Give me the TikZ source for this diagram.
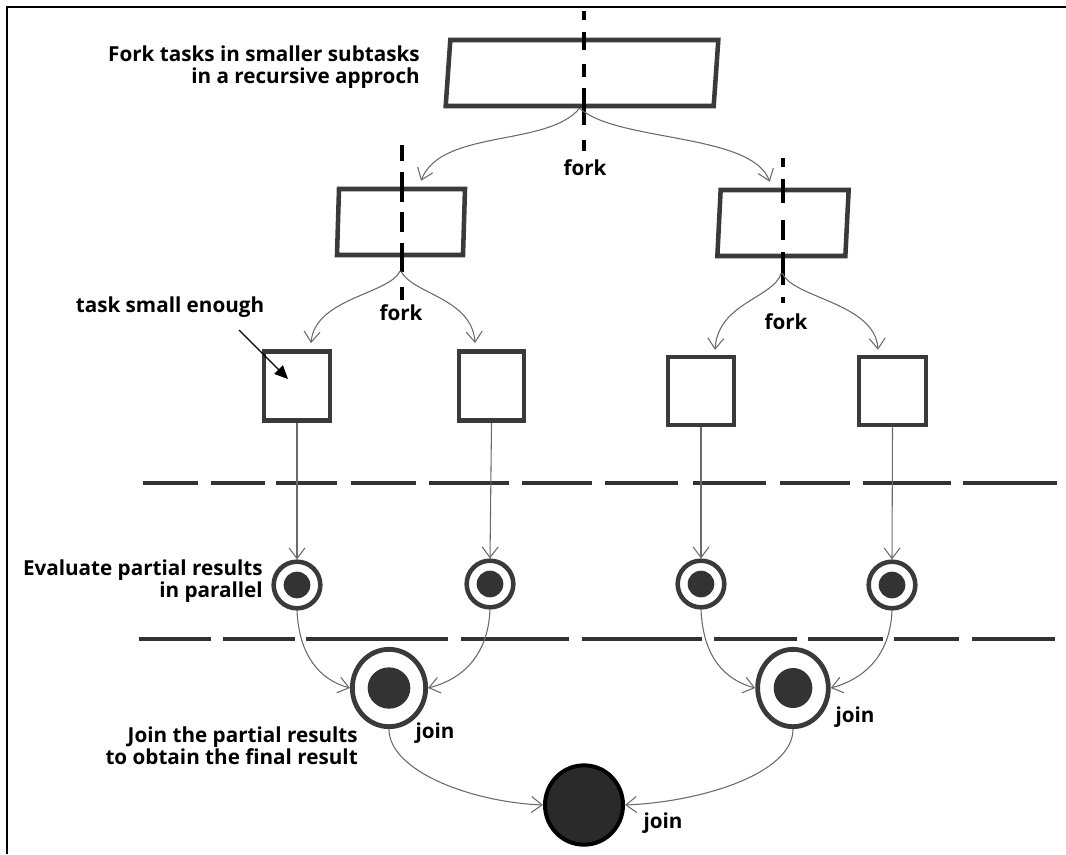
\documentclass[tikz,border=0pt]{standalone}
\usepackage{fontspec}
\setmainfont{Open Sans}
\usetikzlibrary{arrows.meta,shapes.geometric}
\definecolor{boxgray}{HTML}{3A3A3A}
\definecolor{arrgray}{HTML}{6A6A6A}
\definecolor{dotgray}{HTML}{333333}
\definecolor{sepgray}{HTML}{333333}
\newcommand{\lblfont}{\fontsize{15.5}{16.5}\selectfont\bfseries}
\tikzset{
  boxnode/.style={rectangle, draw=boxgray, line width=3.4pt, inner sep=0pt, fill=white},
  conn/.style={draw=arrgray, line width=0.8pt, -{Straight Barb[length=8pt,width=12pt,line width=0.8pt]}},
  forkline/.style={line width=3pt, black},
  sepline/.style={line width=2.3pt, sepgray},
  lbl/.style={font=\lblfont, text=black, inner sep=0pt},
  ring/.style={circle, draw=boxgray, line width=3.4pt, fill=white, inner sep=0pt, minimum size=35pt},
  dotnode/.style={circle, fill=dotgray, inner sep=0pt, minimum size=20pt},
  bigring/.style={ellipse, draw=boxgray, line width=3.6pt, fill=white, inner sep=0pt, minimum width=55pt, minimum height=58pt},
  bigdot/.style={ellipse, fill=dotgray, inner sep=0pt, minimum width=31pt, minimum height=31pt}
}
\begin{document}
\begin{tikzpicture}[x=0.75pt,y=-0.75pt]
\useasboundingbox (0,0) rectangle (1066,854);
% frame
\draw[line width=1.9pt] (7,854) -- (7,7) -- (1066,7);

% separators
\foreach \a/\b in {143/198,211/265,276/337,351/416,429/509,522/592,605/678,693/766,780/850,863/951,963/1057}
  \draw[sepline] (\a,483) -- (\b,483);
\foreach \a/\b in {139/211,223/295,306/448,461/569,582/702,714/797,808/883,894/959,972/1055}
  \draw[sepline] (\a,639) -- (\b,639);

% boxes
\node[boxnode, minimum width=201pt, minimum height=49.5pt, xslant=0.07, transform shape] (T) at (582,73) {};
\node[boxnode, minimum width=94.5pt, minimum height=49.5pt, xslant=0.03, transform shape] (ML) at (401,222) {};
\node[boxnode, minimum width=96pt, minimum height=49.5pt, xslant=0.05, transform shape] (MR) at (783,223) {};
\node[boxnode, minimum width=49.5pt, minimum height=52pt] (B1) at (297,386) {};
\node[boxnode, minimum width=49pt, minimum height=52pt] (B2) at (491.5,386) {};
\node[boxnode, minimum width=49.5pt, minimum height=51pt] (B3) at (701,391) {};
\node[boxnode, minimum width=50pt, minimum height=51pt] (B4) at (892.5,391) {};

% fork dashed lines
\foreach \a/\b in {11/20,32/50,64/77,88/125,140/151}
  \draw[forkline] (584,\a) -- (584,\b);
\foreach \a/\b in {145/161,172/202,212/232,243/272,287/300}
  \draw[forkline] (402,\a) -- (402,\b);
\foreach \a/\b in {158/167,179/203,220/240,252/285,297/303}
  \draw[forkline] (783,\a) -- (783,\b);

% circles
\node[ring] (C1) at (297,585) {};
\node[dotnode] at (C1) {};
\node[ring] (C2) at (490,584) {};
\node[dotnode] at (C2) {};
\node[ring] (C3) at (701,584) {};
\node[dotnode] at (C3) {};
\node[ring] (C4) at (892,585) {};
\node[dotnode] at (C4) {};

\node[bigring] (JL) at (389,688) {};
\node[bigdot, minimum width=32pt, minimum height=31pt] at (JL) {};
\node[bigring, minimum width=53pt] (JR) at (793,688) {};
\node[bigdot, minimum width=29pt, minimum height=30pt] at (JR) {};

\node[ellipse, draw=black, line width=3pt, fill={rgb,255:red,42;green,42;blue,42}, inner sep=0pt, minimum width=58.5pt, minimum height=59.5pt] (F) at (584,805) {};

% connectors: fork
\draw[conn] (T.south) .. controls +(-32,39) and +(20,-52) .. ([shift={(19,-6)}]ML.north);
\draw[conn] (T.south) .. controls +(38,34) and +(-18,-49) .. ([shift={(-15,-6)}]MR.north);
\draw[conn] ([shift={(0,14)}]ML.south) .. controls +(-11,23) and +(4,-45) .. ([shift={(14,-6)}]B1.north);
\draw[conn] ([shift={(1,14)}]ML.south) .. controls +(12,23) and +(-3,-45) .. ([shift={(-16.5,-6)}]B2.north);
\draw[conn] ([shift={(0,15)}]MR.south) .. controls +(-8,25) and +(3,-47) .. ([shift={(14,-5)}]B3.north);
\draw[conn] ([shift={(1,15)}]MR.south) .. controls +(11,25) and +(-3,-47) .. ([shift={(-14.5,-5)}]B4.north);

% evaluate
\draw[conn] (B1.south) -- (C1.north);
\draw[conn] (B2.south) -- (C2.north);
\draw[conn] (B3.south) -- (C3.north);
\draw[conn] (B4.south) -- (C4.north);

% join
\draw[conn] (C1.south) .. controls +(2,45) and +(-30,-8) .. (JL.west);
\draw[conn] (C2.south) .. controls +(-2,48) and +(32,-8) .. (JL.east);
\draw[conn] (C3.south) .. controls +(2,48) and +(-30,-8) .. (JR.west);
\draw[conn] (C4.south) .. controls +(-2,48) and +(30,-8) .. (JR.east);
\draw[conn] (JL.south) .. controls +(0,42) and +(-72,-3) .. (F.west);
\draw[conn] (JR.south) .. controls +(0,45) and +(75,-3) .. (F.east);

% labels
\node[lbl, anchor=east, align=right] (Lfork) at (420,67) {Fork tasks in smaller subtasks\\in a recursive approch};
\node[lbl] (f1) at (585,168) {fork};
\node[lbl] (f2) at (401,313) {fork};
\node[lbl] (f3) at (786,322) {fork};
\node[lbl] (Ltask) at (170,307) {task small enough};
\node[lbl, anchor=east, align=right] (Leval) at (263,581) {Evaluate partial results\\in parallel};
\node[lbl, anchor=east, align=right] (Ljoin) at (358,746) {Join the partial results\\to obtain the final result};
\node[lbl] (j1) at (435,733) {join};
\node[lbl] (j2) at (855,717) {join};
\node[lbl] (j3) at (663,823) {join};

\coordinate (tsa) at (239,330);
\coordinate (tse) at (288,379);
\draw[line width=1pt, -{Triangle[length=10pt,width=9pt]}] (tsa) -- (tse);
\end{tikzpicture}
\end{document}
